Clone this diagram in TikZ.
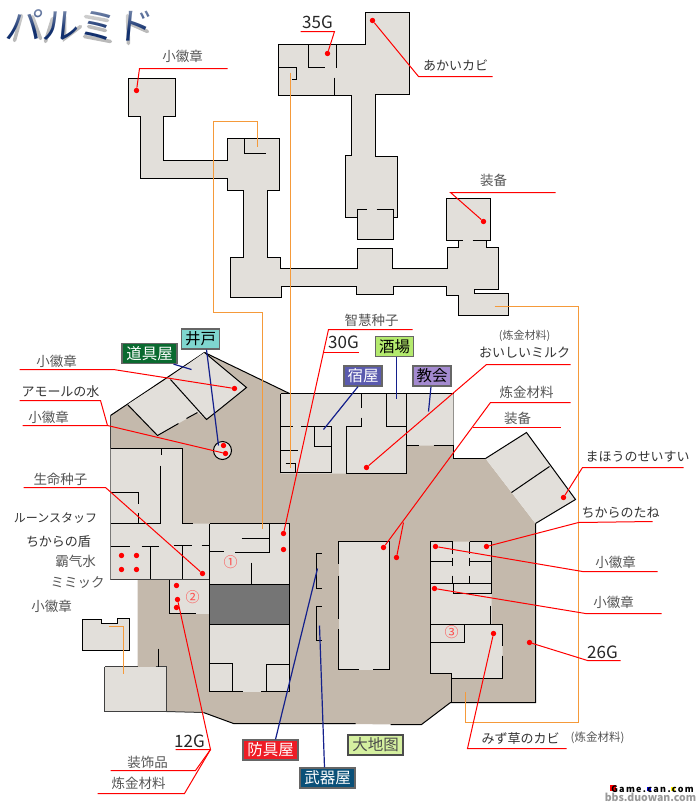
\documentclass[tikz,border=0pt]{standalone}
\usepackage{fontspec}
\setmainfont{Noto Sans CJK JP}
\newfontfamily\titleFont[FakeSlant=0.1]{Noto Sans CJK JP}
\usetikzlibrary{fadings}
\definecolor{floorLight}{HTML}{E2DFDA}
\definecolor{floorTan}{HTML}{C4B9AC}
\definecolor{floorDark}{HTML}{757575}
\definecolor{linkOrange}{HTML}{F59A3A}
\definecolor{shopBlue}{HTML}{14208C}
\definecolor{textGrey}{HTML}{555555}
\definecolor{titleBlue}{HTML}{12306E}
\definecolor{shopItemFill}{HTML}{0A6A30}
\definecolor{shopWellFill}{HTML}{7FD6CF}
\definecolor{shopBarFill}{HTML}{B4EA6E}
\definecolor{shopInnFill}{HTML}{5A5AAE}
\definecolor{shopChurchFill}{HTML}{A48AD0}
\definecolor{shopArmorFill}{HTML}{EE1C25}
\definecolor{shopWeaponFill}{HTML}{0A5078}
\definecolor{worldMapFill}{HTML}{D5F0A0}
% Red leader: free end, knee, then the dot it points to.
\newcommand{\itemLine}[4]{%
  \node[itemDot] (dot#1) at #4 {};
  \coordinate (end#1) at #2;
  \coordinate (knee#1) at #3;
  \draw[redLine] (end#1) -- (knee#1) -- (dot#1);
}

\begin{document}
\begin{tikzpicture}[%
  x=1pt,y=-1pt,
  wallLine/.style={-,black,line width=1pt},
  softLine/.style={-,black!75,line width=1pt},
  redLine/.style={-,red,line width=1pt},
  orangeLine/.style={-,linkOrange,line width=1.4pt},
  blueLine/.style={-,shopBlue,line width=1.2pt},
  shadeLine/.style={-,black!45,line width=3.5pt,line cap=round,opacity=0.6},
  itemDot/.style={circle,fill=red,inner sep=0pt,minimum size=5.4pt},
  bigText/.style={font=\fontsize{13}{13}\selectfont,text=black!80},
  smallText/.style={font=\fontsize{13.5}{14}\selectfont,text=textGrey},
  goldText/.style={font=\fontsize{17}{17}\selectfont,text=black!85},
  numberText/.style={font=\fontsize{14}{14}\selectfont,text=red!70},
  shopBox/.style={draw=black!60,line width=1.2pt,minimum width=#1,minimum height=20pt,
    inner sep=0pt,font=\fontsize{15.5}{16}\selectfont},
  shopBox/.default=55pt
]
\useasboundingbox (-0.5,-0.5) rectangle (699.5,803.5);
%
% The northern caves.
\draw[wallLine,fill=floorLight] (128,78) -- (175,78) -- (175,116) -- (163,116) -- (163,160)
  -- (227,160) -- (227,138) -- (279,138) -- (279,190) -- (267,190) -- (267,257) -- (280,257)
  -- (280,268) -- (357,268) -- (357,248) -- (392,248) -- (392,268) -- (447,268) -- (447,247)
  -- (458,247) -- (458,240) -- (446,240) -- (446,198) -- (490,198) -- (490,240) -- (486,240)
  -- (486,247) -- (498,247) -- (498,289) -- (474,289) -- (474,293) -- (508,293) -- (508,315)
  -- (458,315) -- (458,295) -- (446,295) -- (446,286) -- (393,286) -- (393,294) -- (356,294)
  -- (356,286) -- (281,286) -- (281,297) -- (230,297) -- (230,257) -- (243,257) -- (243,190)
  -- (227,190) -- (227,178) -- (140,178) -- (140,116) -- (128,116) -- cycle;
\draw[wallLine,fill=floorLight] (278,44) -- (365,44) -- (365,12) -- (409,12) -- (409,94)
  -- (375,94) -- (375,156) -- (397,156) -- (397,217) -- (393,217) -- (393,239) -- (357,239)
  -- (357,217) -- (345,217) -- (345,155) -- (351,155) -- (351,95) -- (278,95) -- cycle;
\draw[wallLine] (308,44) -- (308,67) -- (324,67)
  (336,44) -- (336,67)
  (334,77) -- (334,95)
  (278,67) -- (296,67) -- (296,79) -- (291,79)
  (357,217) -- (357,209) -- (366,209)
  (376,209) -- (393,209) -- (393,217)
  (458,240) -- (462,240)
  (472,240) -- (486,240)
  (244,138) -- (244,153) -- (265,153);
%
% The town ground.
\fill[floorTan] (110,415) -- (204,352) -- (289,393) -- (453,393) -- (453,458) -- (485,458)
  -- (535,523) -- (535,702) -- (450,702) -- (421,724) -- (233,723) -- (203,712) -- (166,711)
  -- (137,666) -- (137,579) -- (110,579) -- cycle;
\draw[softLine] (110,579) -- (110,415);
\draw[wallLine] (110,415) -- (204,352) -- (289,393);
\draw[wallLine] (453,393) -- (453,458) -- (485,458);
\draw[wallLine] (535,523) -- (535,702) -- (450,702) -- (421,724) -- (390,724)
  (355,723) -- (233,723) -- (203,712);
\draw[softLine] (203,712) -- (166,711);
%
% Rooms on the ground.
\fill[floorLight] (127,404) -- (167,378) -- (204,352) -- (246,387) -- (206,419) -- (197,412)
  -- (157,435) -- cycle;
\fill[floorLight] (110,448) -- (182,448) -- (182,523) -- (209,523) -- (209,579) -- (110,579) -- cycle;
\fill[floorLight] (209,523) -- (289,523) -- (289,691) -- (209,691) -- cycle;
\fill[floorDark] (209,584) rectangle (289,624);
\fill[floorLight] (169,579) rectangle (209,613);
\fill[floorLight] (280,393) -- (453,393) -- (453,445) -- (406,445) -- (406,473) -- (280,473) -- cycle;
\fill[floorLight] (485,458) -- (526,432) -- (575,499) -- (535,523) -- cycle;
\fill[floorLight] (338,541) rectangle (389,669);
\fill[floorLight] (430,541) -- (491,541) -- (491,624) -- (502,624) -- (502,678) -- (451,678)
  -- (451,673) -- (430,673) -- cycle;
\fill[floorLight] (104,666) rectangle (166,711);
\draw[wallLine,fill=floorLight] (82,619) -- (101,619) -- (101,623) -- (117,623) -- (117,618)
  -- (129,618) -- (129,650) -- (82,650) -- cycle;
\node[circle,draw=black,line width=1pt,fill=floorLight,minimum size=18pt,inner sep=0pt] (wellRing) at (222,450) {};
%
% Walls in the west of the town.
\draw[wallLine] (204,352) -- (246,387) -- (220,408)
  (170,379) -- (206,419) -- (220,408)
  (127,404) -- (157,435) -- (178,423)
  (186,418) -- (197,412);
\draw[wallLine] (110,448) -- (182,448) -- (182,523) -- (192,523)
  (161,448) -- (161,454)
  (160,465) -- (160,523)
  (110,492) -- (138,492) -- (138,503)
  (138,512) -- (138,523)
  (110,523) -- (160,523)
  (110,546) -- (129,546)
  (141,546) -- (158,546)
  (150,546) -- (150,579)
  (173,545) -- (191,545)
  (182,545) -- (182,579)
  (201,545) -- (209,545)
  (169,579) -- (169,613) -- (195,613);
\draw[softLine] (110,579) -- (209,579);
\draw[wallLine] (209,523) -- (289,523) -- (289,691) -- (260,691)
  (242,691) -- (209,691) -- (209,523)
  (241,538) -- (269,538) -- (269,552) -- (234,552)
  (209,551) -- (223,551)
  (269,523) -- (269,538)
  (251,562) -- (251,584)
  (209,584) -- (289,584)
  (209,624) -- (289,624)
  (209,663) -- (232,663) -- (232,691)
  (289,664) -- (266,664) -- (266,691);
\draw[softLine] (104,666) -- (137,666)
  (155,666) -- (166,666) -- (166,711) -- (104,711) -- (104,666);
\draw[wallLine] (158,648) -- (158,666);
%
% Walls in the north of the town.
\draw[wallLine] (280,393) -- (453,393) (280,393) -- (280,472) -- (331,472) -- (331,426) -- (300,426)
  (292,426) -- (280,426)
  (314,426) -- (314,446) -- (331,446)
  (280,450) -- (297,450)
  (285,463) -- (295,463) -- (295,472)
  (361,393) -- (361,407)
  (361,417) -- (361,426) -- (346,426) -- (346,473) -- (406,473) -- (406,393)
  (386,393) -- (386,426) -- (406,426)
  (406,445) -- (418,445)
  (433,445) -- (453,445);
\draw[wallLine] (485,458) -- (526,432) -- (575,499) -- (535,523)
  (511,492) -- (549,466);
%
% Walls in the middle and the east.
\draw[wallLine] (321,553) -- (316,553) -- (316,588) -- (321,588)
  (321,606) -- (316,606) -- (316,640) -- (321,640);
\draw[wallLine] (338,563) -- (338,541) -- (389,541) -- (389,669) -- (372,669)
  (358,669) -- (338,669) -- (338,628)
  (338,575) -- (338,618);
\draw[wallLine] (452,541) -- (430,541) -- (430,673) -- (451,673) -- (451,702)
  (469,541) -- (491,541) -- (491,593) -- (453,593) -- (453,583)
  (452,541) -- (452,553)
  (469,541) -- (469,553)
  (430,561) -- (452,561)
  (452,557) -- (452,565)
  (469,561) -- (491,561)
  (469,557) -- (469,565)
  (452,575) -- (452,583)
  (469,575) -- (469,583)
  (430,583) -- (491,583)
  (490,605) -- (490,624)
  (430,624) -- (502,624) -- (502,645)
  (502,655) -- (502,678) -- (451,678)
  (464,624) -- (464,642) -- (430,642);
%
% Links between the floors.
\draw[orangeLine] (257,146) -- (257,121) -- (213,121) -- (213,312) -- (262,312) -- (262,528);
\draw[orangeLine] (290,72) -- (290,467);
\draw[orangeLine] (494,306) -- (578,306) -- (578,722) -- (465,722) -- (465,691);
\draw[orangeLine] (108,626) -- (123,626) -- (123,673);
%
% Shops.
\node[shopBox,fill=shopItemFill,text=white] (shopItem) at (149,353) {道具屋};
\node[shopBox=38pt,fill=shopWellFill,text=black] (shopWell) at (200,338.5) {井戸};
\node[shopBox=38pt,fill=shopBarFill,text=black] (shopBar) at (394,346) {酒場};
\node[shopBox=38pt,fill=shopInnFill,text=white] (shopInn) at (362.5,375.5) {宿屋};
\node[shopBox=38pt,fill=shopChurchFill,text=black] (shopChurch) at (431.5,375.5) {教会};
\node[shopBox,fill=shopArmorFill,text=white] (shopArmor) at (270,749.5) {防具屋};
\node[shopBox,fill=shopWeaponFill,text=white] (shopWeapon) at (327,777.5) {武器屋};
\node[shopBox,fill=worldMapFill,draw=black!70,text=black!70] (worldMap) at (375,744.5) {大地图};
\coordinate (inItem) at (191,369);
\coordinate (inWell) at (218,445);
\coordinate (inBar) at (396,398);
\coordinate (inInn) at (323,429);
\coordinate (inChurch) at (428,411);
\coordinate (inArmor) at (317,568);
\coordinate (inWeapon) at (319,625);
\draw[blueLine] ([xshift=24pt]shopItem.south) -- (inItem);
\draw[blueLine] ([xshift=6pt]shopWell.south) -- (inWell);
\draw[blueLine] ([xshift=2pt]shopBar.south) -- (inBar);
\draw[blueLine] ([xshift=-5pt]shopInn.south) -- (inInn);
\draw[blueLine] ([xshift=-1pt]shopChurch.south) -- (inChurch);
\draw[blueLine] ([xshift=5pt]shopArmor.north) -- (inArmor);
\draw[blueLine] ([xshift=-3pt]shopWeapon.north) -- (inWeapon);
%
% Items and their leaders.
\itemLine{Badge}{(227,68)}{(139,68)}{(136,90)}
\itemLine{Coins}{(300,31)}{(334,31)}{(327,53)}
\itemLine{Mold}{(492,76)}{(418,76)}{(372,20)}
\itemLine{Gear}{(555,192)}{(450,192)}{(483,221)}
\itemLine{Wisdom}{(412,329)}{(328,329)}{(283,533)}
\coordinate (endThirty) at (358,352);
\coordinate (kneeThirty) at (322,352);
\draw[redLine] (endThirty) -- (kneeThirty);
\itemLine{Milk}{(570,364)}{(486,364)}{(366,467)}
\itemLine{Metal}{(570,402)}{(490,402)}{(383,547)}
\coordinate (forkMetal) at (403,522);
\node[itemDot] (dotForge) at (396,557) {};
\draw[redLine] (forkMetal) -- (dotForge);
\coordinate (endArmor) at (560,427);
\coordinate (kneeArmor) at (472,427);
\draw[redLine] (endArmor) -- (kneeArmor);
\itemLine{Holy}{(683,467)}{(582,467)}{(563,497)}
\itemLine{Power}{(652,521)}{(578,522)}{(486,546)}
\itemLine{BadgeB}{(657,571)}{(582,571)}{(435,546)}
\itemLine{BadgeC}{(661,613)}{(585,613)}{(434,588)}
\itemLine{Gold}{(620,660)}{(587,660)}{(529,642)}
\itemLine{Weed}{(566,748)}{(467,748)}{(493,633)}
\itemLine{BadgeD}{(19,369)}{(113,369)}{(234,388)}
\itemLine{BadgeE}{(22,425)}{(107,425)}{(225,453)}
\coordinate (endWater) at (19,400);
\coordinate (kneeWater) at (100,400);
\draw[redLine] (endWater) -- (kneeWater) -- (kneeBadgeE);
\itemLine{Life}{(23,487)}{(105,487)}{(202,573)}
\itemLine{Twelve}{(175,749)}{(210,749)}{(177,599)}
\coordinate (endJewel) at (110,770);
\coordinate (kneeJewel) at (195,770);
\draw[redLine] (endJewel) -- (kneeJewel) -- (kneeTwelve);
\coordinate (endStuff) at (97,793);
\coordinate (kneeStuff) at (184,793);
\draw[redLine] (endStuff) -- (kneeStuff) -- (kneeTwelve);
%
% Dots with no leader.
\foreach \dotName/\dotPlace in {wellDot/{(223,445)},hallDot/{(283,549)},chestA/{(121,555)},
  chestB/{(136,555)},chestC/{(121,569)},chestD/{(136,569)},sideA/{(176,585)},sideB/{(176,607)}}
  {\node[itemDot] (\dotName) at \dotPlace {};}
%
% Texts.
\node[smallText] (txtBadge) at (182,56) {小徽章};
\node[goldText] (txtCoins) at (317,22) {35G};
\node[bigText] (txtMold) at (455,65) {あかいカビ};
\node[smallText] (txtGear) at (493,180) {装备};
\node[smallText] (txtWisdom) at (371,320) {智慧种子};
\node[goldText] (txtThirty) at (343,342) {30G};
\node[smallText,font=\fontsize{11}{11}\selectfont] (txtMilkNote) at (524,335) {(炼金材料)};
\node[bigText] (txtMilk) at (524,352) {おいしいミルク};
\node[smallText] (txtMetal) at (526,392) {炼金材料};
\node[smallText] (txtArmor) at (517,418) {装备};
\node[bigText] (txtHoly) at (637,456) {まほうのせいすい};
\node[bigText] (txtPower) at (620,512) {ちからのたね};
\node[smallText] (txtBadgeB) at (615,562) {小徽章};
\node[smallText] (txtBadgeC) at (613,602) {小徽章};
\node[goldText] (txtGold) at (602,652) {26G};
\node[bigText] (txtWeed) at (520,738) {みず草のカビ};
\node[smallText,font=\fontsize{11.5}{12}\selectfont] (txtWeedNote) at (597,737) {(炼金材料)};
\node[smallText] (txtBadgeD) at (56,361) {小徽章};
\node[bigText] (txtWater) at (60,391) {アモールの水};
\node[smallText] (txtBadgeE) at (48,417) {小徽章};
\node[smallText] (txtLife) at (60,479) {生命种子};
\node[bigText,font=\fontsize{12}{12}\selectfont] (txtStaff) at (55,518) {ルーンスタッフ};
\node[bigText] (txtShield) at (58,541) {ちからの盾};
\node[smallText] (txtOgre) at (75,561) {霸气水};
\node[smallText] (txtMimic) at (77,582) {ミミック};
\node[smallText] (txtBadgeF) at (51,606) {小徽章};
\node[goldText] (txtTwelve) at (189,741) {12G};
\node[smallText] (txtJewel) at (147,762) {装饰品};
\node[smallText] (txtStuff) at (138,783) {炼金材料};
\node[numberText] (numOne) at (230,562) {①};
\node[numberText] (numTwo) at (192,597) {②};
\node[numberText] (numThree) at (451,632) {③};
%
% Title with a soft shade under its strokes.
\draw[shadeLine] (21,15) -- (14,40) (32,16) -- (40,38)
  (52,18) -- (45,41) (64,16) -- (64,38) -- (80,26)
  (85,16) -- (107,20) (88,26) -- (105,30) (84,36) -- (110,41)
  (127,15) -- (128,43) (129,23) -- (147,31);
\node[font=\titleFont\fontsize{37}{37}\selectfont,text=titleBlue] (titleMain) at (78,25) {パルミド};
\fill[white,opacity=0.5,path fading=south] (5,5) rectangle (155,30);
%
% Marks in the corner.
\fill[red] (609,784) rectangle (615,790);
\fill[blue] (646,786) rectangle (650,790);
\fill[yellow] (670,786) rectangle (674,790);
\node[font=\bfseries\fontsize{9}{9}\selectfont\addfontfeature{LetterSpace=15},text=black] (siteMark) at (652,789) {Game.can.com};
\node[font=\bfseries\fontsize{10.5}{11}\selectfont,text=black!40] (forumMark) at (650,797) {bbs.duowan.com};
\end{tikzpicture}
\end{document}
